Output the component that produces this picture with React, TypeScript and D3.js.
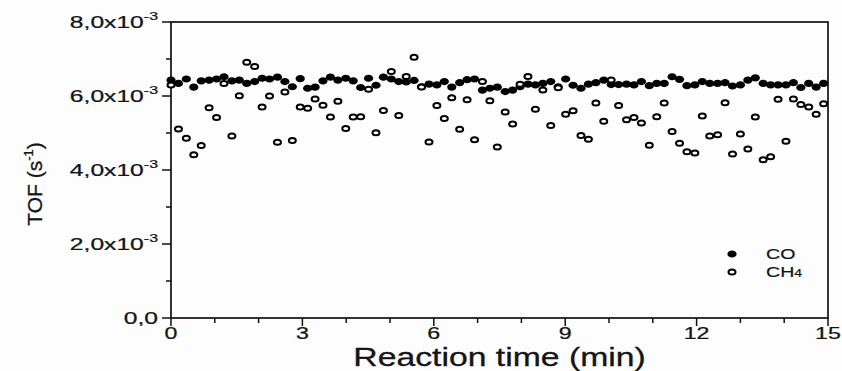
import * as d3 from "d3";

// sampling times (min)
const times = [
  0.0, 0.17, 0.35, 0.52, 0.69, 0.87, 1.04, 1.21, 1.39, 1.56, 1.73, 1.91, 2.08, 2.25, 2.43,
  2.6, 2.77, 2.95, 3.12, 3.29, 3.47, 3.64, 3.81, 3.99, 4.16, 4.33, 4.51, 4.68, 4.85, 5.03,
  5.2, 5.37, 5.55, 5.72, 5.89, 6.07, 6.24, 6.41, 6.59, 6.76, 6.93, 7.11, 7.28, 7.45, 7.63,
  7.8, 7.97, 8.15, 8.32, 8.49, 8.67, 8.84, 9.01, 9.18, 9.36, 9.53, 9.7, 9.88, 10.05, 10.22,
  10.4, 10.57, 10.74, 10.92, 11.09, 11.26, 11.44, 11.61, 11.78, 11.96, 12.13, 12.3, 12.48,
  12.65, 12.82, 13.0, 13.17, 13.34, 13.52, 13.69, 13.86, 14.04, 14.21, 14.38, 14.56, 14.73, 14.9,
];

// TOF in units of 1e-3 s^-1
const coTOF = [
  6.43, 6.34, 6.46, 6.24, 6.41, 6.43, 6.46, 6.52, 6.41, 6.43, 6.34, 6.39, 6.48, 6.46, 6.51,
  6.39, 6.25, 6.47, 6.21, 6.24, 6.41, 6.51, 6.43, 6.48, 6.41, 6.23, 6.48, 6.29, 6.51, 6.46,
  6.39, 6.38, 6.42, 6.25, 6.32, 6.3, 6.39, 6.24, 6.36, 6.44, 6.46, 6.16, 6.21, 6.24, 6.12,
  6.16, 6.25, 6.32, 6.3, 6.34, 6.39, 6.25, 6.46, 6.29, 6.21, 6.32, 6.36, 6.43, 6.31, 6.31,
  6.32, 6.3, 6.39, 6.28, 6.34, 6.34, 6.52, 6.45, 6.28, 6.3, 6.39, 6.34, 6.34, 6.36, 6.27,
  6.3, 6.43, 6.49, 6.34, 6.3, 6.3, 6.3, 6.36, 6.23, 6.34, 6.24, 6.34,
];

const ch4TOF = [
  6.3, 5.11, 4.86, 4.41, 4.66, 5.68, 5.42, 6.34, 4.92, 6.01, 6.91, 6.8, 5.7, 6.0, 4.75,
  6.11, 4.8, 5.7, 5.67, 5.92, 5.75, 5.43, 5.86, 5.12, 5.43, 5.44, 6.18, 5.01, 5.61, 6.66,
  5.47, 6.53, 7.05, 6.24, 4.76, 5.74, 5.39, 5.95, 5.1, 5.9, 4.82, 6.39, 5.87, 4.62, 5.57,
  5.24, 6.32, 6.53, 5.64, 6.16, 5.2, 6.22, 5.51, 5.6, 4.93, 4.83, 5.81, 5.32, 6.43, 5.74,
  5.36, 5.42, 5.27, 4.67, 5.44, 5.81, 5.04, 4.72, 4.49, 4.46, 5.46, 4.92, 4.95, 5.82, 4.43,
  4.97, 4.57, 5.43, 4.28, 4.36, 5.91, 4.78, 5.92, 5.77, 5.7, 5.51, 5.79,
];

const xTicks = [0, 3, 6, 9, 12, 15];
const xMinorTicks = [1, 2, 4, 5, 7, 8, 10, 11, 13, 14];
const yTicks = [0, 2, 4, 6, 8];
const yMinorTicks = [1, 3, 5, 7];
const yTickMantissa = ["0,0", "2,0x10", "4,0x10", "6,0x10", "8,0x10"];

const font = "'Liberation Sans', Arial, sans-serif";
const SX = 1.45; // the original figure is stretched sideways

function App() {
  const x = d3.scaleLinear().domain([0, 15]).range([171, 828]);
  const y = d3.scaleLinear().domain([0, 8]).range([318, 22]);
  const co = times.map((t, i) => ({ t, v: coTOF[i] }));
  const ch4 = times.map((t, i) => ({ t, v: ch4TOF[i] }));

  return (
    <svg width={842} height={371} style={{ position: "absolute", left: 0, top: 0, background: "#fdfdfd" }}>
      {/* frame */}
      <rect x={x(0)} y={y(8)} width={x(15) - x(0)} height={y(0) - y(8)} fill="none" stroke="#111" strokeWidth={1.7} />

      {/* y axis ticks */}
      {yTicks.map((t, i) => (
        <g key={"y" + t}>
          <line x1={x(0) - 9} x2={x(0)} y1={y(t)} y2={y(t)} stroke="#111" strokeWidth={1.5} />
          <text
            transform={`translate(${x(0) - 13},${y(t) + 6}) scale(${SX},1)`}
            textAnchor="end"
            fontFamily={font}
            fontSize={17}
            fill="#151515"
            stroke="#151515"
            strokeWidth={0.25}
          >
            {yTickMantissa[i]}
            {t !== 0 && (
              <tspan dy={-8} fontSize={11}>
                -3
              </tspan>
            )}
          </text>
        </g>
      ))}
      {yMinorTicks.map((t) => (
        <line key={"ym" + t} x1={x(0) - 5} x2={x(0)} y1={y(t)} y2={y(t)} stroke="#111" strokeWidth={1.5} />
      ))}

      {/* x axis ticks */}
      {xTicks.map((t) => (
        <g key={"x" + t}>
          <line x1={x(t)} x2={x(t)} y1={y(0)} y2={y(0) + 8} stroke="#111" strokeWidth={1.5} />
          <text
            transform={`translate(${x(t)},${y(0) + 21}) scale(${SX},1)`}
            textAnchor="middle"
            fontFamily={font}
            fontSize={16}
            fill="#151515"
            stroke="#151515"
            strokeWidth={0.25}
          >
            {t}
          </text>
        </g>
      ))}
      {xMinorTicks.map((t) => (
        <line key={"xm" + t} x1={x(t)} x2={x(t)} y1={y(0)} y2={y(0) + 5} stroke="#111" strokeWidth={1.5} />
      ))}

      {/* axis titles */}
      <text
        transform={`translate(${(x(0) + x(15)) / 2},366) scale(1.35,1)`}
        textAnchor="middle"
        fontFamily={font}
        fontSize={25}
        fill="#151515"
        stroke="#151515"
        strokeWidth={0.3}
      >
        Reaction time (min)
      </text>
      <text
        transform={`translate(42,184) rotate(-90)`}
        textAnchor="middle"
        fontFamily={font}
        fontSize={21}
        fill="#151515"
        stroke="#151515"
        strokeWidth={0.3}
      >
        TOF (s
        <tspan dy={-9} fontSize={13}>
          -1
        </tspan>
        <tspan dy={9}>)</tspan>
      </text>

      {/* data */}
      {co.map((d, i) => (
        <ellipse key={"co" + i} cx={x(d.t)} cy={y(d.v)} rx={4.6} ry={3.6} fill="#000" />
      ))}
      {ch4.map((d, i) => (
        <ellipse
          key={"ch" + i}
          cx={x(d.t)}
          cy={y(d.v)}
          rx={3.5}
          ry={2.5}
          fill="#fff"
          stroke="#000"
          strokeWidth={2}
        />
      ))}

      {/* legend */}
      <ellipse cx={732} cy={254} rx={4.6} ry={3.6} fill="#000" />
      <text transform={`translate(766,259) scale(1.4,1)`} fontFamily={font} fontSize={14} fill="#151515" stroke="#151515" strokeWidth={0.2}>
        CO
      </text>
      <ellipse cx={732} cy={272} rx={3.5} ry={2.5} fill="#fff" stroke="#000" strokeWidth={2} />
      <text transform={`translate(766,277) scale(1.4,1)`} fontFamily={font} fontSize={14} fill="#151515" stroke="#151515" strokeWidth={0.2}>
        CH
        <tspan fontSize={10}>4</tspan>
      </text>
    </svg>
  );
}

export default App;
